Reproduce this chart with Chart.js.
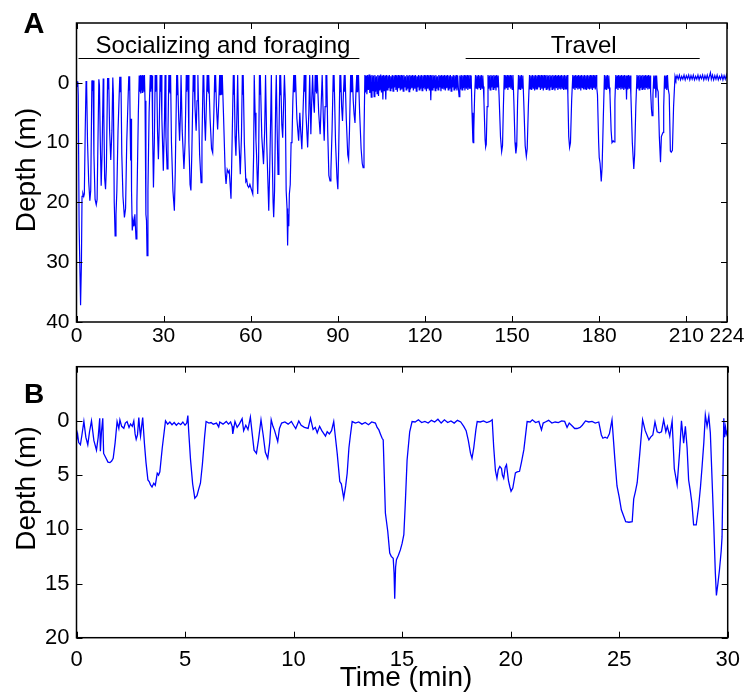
<!DOCTYPE html>
<html>
<head>
<meta charset="utf-8">
<title>Dive profile</title>
<script src="https://cdn.jsdelivr.net/npm/chart.js@4.4.1/dist/chart.umd.min.js"></script>
<style>
  body { margin: 0; background: #fff; }
  .panel { position: absolute; left: 0; width: 753px; }
  #panelA { top: 0; height: 345px; }
  #panelB { top: 345px; height: 349px; }
</style>
</head>
<body>
<div class="panel" id="panelA"><canvas id="chartA"></canvas></div>
<div class="panel" id="panelB"><canvas id="chartB"></canvas></div>
<script>
// ---- data: [time (min), depth (m)] ----
const profileA = [
  [0,0.3],[0.15,-0.3],[0.3,0.6],[0.45,-0.2],[0.6,2],
  [0.9,24],[1.4,37.2],[1.7,30],[1.9,19],[2.2,18.5],[2.5,19],[2.7,18.6],[3.0,8],[3.3,-0.3],
  [3.5,0.6],[3.8,10],[4.2,16.5],[4.6,19.7],[4.9,18],[5.3,-0.4],
  [5.5,0.5],[5.7,-0.4],[6.0,12],[6.4,19.5],[6.8,20.4],[7.1,19.5],[7.7,-0.6],
  [7.9,0.4],[8.2,10],[8.5,17.2],[8.8,12],[9.2,-0.7],[9.4,5],[9.7,16],[10.0,17.8],[10.3,14],[10.7,-0.8],
  [10.9,1],[11.1,-0.8],[11.4,8],[11.8,12.9],[12.2,8],[12.5,-0.9],
  [12.7,2],[13.0,20],[13.3,25.6],[13.6,22],[13.9,18],[14.3,8],[14.9,-1.0],
  [15.1,1.5],[15.3,-1.0],[15.6,12],[16.0,19],[16.5,22.5],[16.9,21],[17.3,10],[18.0,-1.1],
  [18.15,1.2],[18.3,-1.1],[18.5,8],[18.65,13],[18.8,6],[18.95,18],[19.2,24.7],[19.5,23],[19.8,24],[20.1,22],[20.5,26.1],[20.8,20],[21.3,5],[21.6,-1.2],
  [21.75,1.5],[21.9,-1.2],[22.05,1.8],[22.2,-1.3],[22.35,1.2],[22.5,-1.2],[22.65,1.6],[22.8,-1.3],[22.95,1.0],[23.1,-1.2],[23.25,1.4],[23.4,-1.3],
  [23.6,3],[23.9,22],[24.1,23],[24.3,28.9],[24.6,18],[25.0,5],[25.4,-1.3],
  [25.55,1.5],[25.7,-1.3],[25.85,1.0],[26.0,-1.2],[26.2,8],[26.5,17.5],[26.8,10],[27.1,-1.3],
  [27.25,1.5],[27.4,-1.3],[27.55,1.2],[27.7,-1.3],[27.9,8],[28.2,12.8],[28.5,7],[28.8,-1.3],
  [28.95,1.5],[29.1,-1.3],[29.4,6],[29.9,14.7],[30.3,6],[30.5,-1.3],[30.8,9],[31.2,14.4],[31.5,8],[31.8,-1.3],
  [31.95,1.5],[32.1,-1.3],[32.25,1.7],[32.4,-1.3],[32.7,10],[33.2,18],[33.7,21.4],[34.0,15],[34.5,-1.3],
  [34.65,2],[34.8,-1.3],[35.2,6],[35.5,9.7],[35.8,5],[36.0,-1.3],[36.4,8],[37.0,14.4],[37.4,10],[37.8,-1.3],
  [37.95,1.5],[38.1,-1.3],[38.25,1.2],[38.4,-1.3],[38.7,10],[39.1,17],[39.4,18],[39.7,12],[40.2,-1.3],
  [40.35,1.5],[40.5,-1.3],[40.8,4],[41.2,8],[41.5,3],[41.8,-1.3],[42.4,12],[42.9,16.7],[43.2,10],[43.6,-1.3],
  [43.75,1.5],[43.9,-1.3],[44.1,6],[44.4,9.7],[44.7,4],[45.0,-1.3],[45.15,1.5],[45.3,-1.3],[45.45,1.8],[45.6,-1.3],
  [46.0,6],[46.5,11],[46.9,11.7],[47.3,5],[47.6,-1.3],
  [47.75,1.5],[47.9,-1.3],[48.2,4],[48.6,7.8],[49.0,3],[49.3,-1.3],[49.45,2],[49.6,-1.3],[49.75,1.4],[49.9,-1.3],[50.05,2],[50.2,-1.3],
  [50.6,5],[51.2,15],[51.5,16.9],[51.9,14.5],[52.3,15],[52.6,14.7],[52.9,17],[53.2,19.4],[53.5,12],[53.8,4],[54.0,-1.3],
  [54.15,2],[54.3,-1.3],[54.6,9],[54.9,12.2],[55.2,6],[55.5,-1.3],[55.8,8],[56.4,15.3],[56.8,9],[57.1,-1.3],
  [57.25,2],[57.4,-1.3],[57.8,10],[58.3,16.5],[58.6,16.2],[58.9,17.2],[59.3,17.5],[59.7,17.0],[60.2,17.8],[60.7,18.6],[61.0,12],[61.2,-1.3],
  [61.5,5],[61.8,9.7],[62.0,12],[62.4,18.6],[62.7,13],[63.0,-1.3],
  [63.15,2],[63.3,-1.3],[63.8,9],[64.4,13.6],[64.8,8],[65.1,-1.3],[65.5,10],[66.0,18],[66.2,21.4],[66.5,15],[66.9,5],[67.1,-1.3],
  [67.4,12],[67.7,20],[67.9,22.5],[68.2,18],[68.6,3],[68.8,-1.3],
  [69.1,8],[69.4,15.3],[69.7,10],[70.0,-1.3],[70.15,2],[70.3,-1.3],[70.7,7],[71.0,9.2],[71.3,4],[71.6,-1.3],
  [71.9,3],[72.2,18],[72.5,21],[72.7,27.2],[72.9,22],[73.1,24],[73.3,18.6],[73.6,17],[73.9,10],[74.2,9.7],[74.5,3],[74.8,-1.3],
  [74.95,1.5],[75.1,-1.3],[75.25,1.2],[75.4,-1.3],[75.9,6],[76.5,9.7],[76.9,5],[77.2,8],[77.6,11.1],[78.0,5],[78.4,-1.3],
  [78.55,1.5],[78.7,-1.3],[79.0,5],[79.6,10.8],[80.0,5],[80.3,-1.3],[80.7,8.6],[81.0,3],[81.3,-1.3],[81.6,3],[81.9,5],[82.2,-1.3],
  [82.35,1.5],[82.5,-1.3],[82.65,1.8],[82.9,-1.3],[83.4,5],[83.9,8.6],[84.3,3],[84.6,-1.3],[85.0,6],[85.3,9.7],[85.6,4],[85.9,-1.3],
  [86.05,1.5],[86.2,-1.3],[86.5,8],[86.9,15.5],[87.3,16.4],[87.6,14.8],[88.0,8],[88.4,-1.3],
  [88.55,1.5],[88.7,-1.3],[89.2,10],[89.7,16],[90.0,17.8],[90.3,11],[90.7,-1.3],
  [90.85,1.5],[91.0,-1.3],[91.3,4],[91.6,6.4],[91.9,2],[92.2,-1.3],[92.35,1.5],[92.5,-1.3],[92.9,6],[93.4,12],[93.7,12.8],[94.0,8],[94.4,-1.3],
  [94.55,1.5],[94.7,-1.3],[94.85,1.2],[95.0,-1.3],[95.3,3],[95.6,5.3],[95.9,6.7],[96.2,2],[96.5,-1.3],[96.65,1.5],[96.8,-1.3],[96.95,1.2],[97.1,-1.3],
  [97.5,5],[98.0,11],[98.4,13.5],[98.7,14.2],[99.0,9],[99.3,-1.3],
  // resting at the surface
  [99.5,1.6],[99.75,-1.2],[100,1.9],[100.25,-1.3],[100.5,1.2],[100.75,-1.4],[101,1.7],[101.25,-1.2],
  [101.5,2.4],[101.75,-1.3],[102,1.4],[102.25,-1.2],[102.5,2.3],[102.75,-1.3],[103,1.5],[103.25,-1.1],
  [103.5,1.8],[103.75,-1.3],[104,2.2],[104.25,-1.2],[104.5,1.3],[104.75,-1.4],[105,1.6],[105.25,-1.2],
  [105.5,2.8],[105.75,-1.3],[106,1.4],[106.25,-1.2],[106.5,2.8],[106.75,-1.3],[107,1.2],[107.25,-1.2],
  [107.5,0.9],[107.75,-1.3],[108,1.3],[108.25,-1.1],[108.5,1.0],[108.75,-1.3],[109,1.4],[109.25,-1.2],
  [109.5,0.8],[109.75,-1.3],[110,1.2],[110.25,-1.2],[110.5,1.5],[110.75,-1.3],[111,0.9],[111.25,-1.2],
  [111.5,1.3],[111.75,-1.3],[112,1.1],[112.25,-1.2],[112.5,1.4],[112.75,-1.3],[113,0.8],[113.25,-1.1],
  [113.5,1.2],[113.75,-1.3],[114,1.0],[114.25,-1.2],[114.5,1.5],[114.75,-1.3],[115,1.1],[115.25,-1.2],
  [115.5,0.9],[115.75,-1.3],[116,1.3],[116.25,-1.2],[116.5,1.0],[116.75,-1.3],[117,1.4],[117.25,-1.1],
  [117.5,0.8],[117.75,-1.3],[118,1.2],[118.25,-1.2],[118.5,1.0],[118.75,-1.3],[119,1.3],[119.25,-1.2],
  [119.5,0.9],[119.75,-1.3],[120,1.1],[120.25,-1.2],[120.5,1.4],[120.75,-1.3],[121,1.0],[121.25,-1.2],
  [121.5,1.3],[121.75,-1.3],[122,2.9],[122.25,-1.2],[122.5,1.2],[122.75,-1.3],[123,0.9],[123.25,-1.2],
  [123.5,1.3],[123.75,-1.3],[124,1.0],[124.25,-1.1],[124.5,1.2],[124.75,-1.3],[125,0.8],[125.25,-1.2],
  [125.5,1.4],[125.75,-1.3],[126,1.0],[126.25,-1.2],[126.5,1.1],[126.75,-1.3],[127,1.3],[127.25,-1.2],
  [127.5,0.9],[127.75,-1.3],[128,1.2],[128.25,-1.2],[128.5,1.0],[128.75,-1.3],[129,1.4],[129.25,-1.1],
  [129.5,0.8],[129.75,-1.3],[130,1.2],[130.25,-1.2],[130.5,1.0],[130.75,-1.3],[131,1.3],[131.25,-1.2],
  [131.5,0.9],[131.75,2.3],[132,-1.2],[132.25,1.1],[132.5,-1.3],[132.75,1.2],[133,-1.2],[133.25,0.9],
  [133.5,-1.3],[133.75,1.3],[134,-1.2],[134.25,1.0],[134.5,-1.3],[134.75,1.2],[135,-1.2],[135.25,0.9],
  [135.5,-1.3],[135.75,1.0],
  // travel
  [135.9,-1.2],[136.2,5],[136.5,9.8],[136.6,10.0],[136.8,8],[137.1,2],[137.4,-1.3],
  [137.65,0.9],[137.9,-1.2],[138.15,1.1],[138.4,-1.3],[138.65,0.8],[138.9,-1.2],[139.15,1.2],[139.4,-1.3],[139.65,0.9],[139.9,-1.2],[140.1,0.6],
  [140.3,3],[140.7,9.5],[140.9,10.7],[141.1,10.3],[141.4,4],[141.7,-1.3],
  [141.95,1.0],[142.2,-1.2],[142.45,1.2],[142.7,-1.3],[142.95,0.8],[143.2,-1.2],[143.45,1.1],[143.7,-1.3],[143.95,0.9],[144.2,-1.2],[144.45,1.3],[144.7,-1.3],[144.95,0.8],[145.2,-1.2],
  [145.5,2],[146.0,9],[146.4,11.5],[146.7,10.5],[147.0,4],[147.3,-1.3],
  [147.55,1.1],[147.8,-1.2],[148.05,0.9],[148.3,-1.3],[148.55,1.2],[148.8,-1.2],[149.05,0.8],[149.3,-1.3],[149.55,1.0],[149.8,-1.2],[150.05,1.1],[150.3,-1.3],
  [150.6,3],[151.0,10],[151.3,11.8],[151.6,10.5],[151.9,3],[152.2,-1.3],
  [152.45,1.0],[152.7,-1.2],[152.95,1.2],[153.2,-1.3],[153.45,0.9],[153.7,-1.2],
  [154.0,3],[154.5,10.5],[154.9,12.3],[155.2,11],[155.6,4],[156.0,-1.3],
  [156.25,1.0],[156.5,-1.2],[156.75,1.2],[157,-1.3],[157.25,0.9],[157.5,-1.2],[157.75,1.3],[158,-1.3],
  [158.25,1.0],[158.5,-1.2],[158.75,1.1],[159,-1.3],[159.25,0.8],[159.5,-1.2],[159.75,1.2],[160,-1.3],
  [160.25,1.0],[160.5,-1.2],[160.75,1.3],[161,-1.3],[161.25,0.9],[161.5,-1.2],[161.75,1.1],[162,-1.3],
  [162.25,1.0],[162.5,-1.2],[162.75,1.2],[163,-1.3],[163.25,0.8],[163.5,-1.2],[163.75,1.1],[164,-1.3],
  [164.25,1.0],[164.5,-1.2],[164.75,1.3],[165,-1.3],[165.25,0.9],[165.5,-1.2],[165.75,1.2],[166,-1.3],
  [166.25,1.0],[166.5,-1.2],[166.75,1.1],[167,-1.3],[167.25,0.9],[167.5,-1.2],[167.75,1.2],[168,-1.3],
  [168.25,1.0],[168.5,-1.2],[168.75,1.1],[169,-1.3],
  [169.2,2],[169.5,9],[169.8,10.8],[170.1,10],[170.5,3],[170.9,-1.3],
  [171.15,1.0],[171.4,-1.2],[171.65,1.2],[171.9,-1.3],[172.15,0.9],[172.4,-1.2],[172.65,1.1],[172.9,-1.3],
  [173.15,1.0],[173.4,-1.2],[173.65,1.3],[173.9,-1.3],[174.15,0.8],[174.4,-1.2],[174.65,1.1],[174.9,-1.3],
  [175.15,1.0],[175.4,-1.2],[175.65,1.2],[175.9,-1.3],[176.15,0.9],[176.4,-1.2],[176.65,1.1],[176.9,-1.3],
  [177.15,1.0],[177.4,-1.2],[177.65,1.2],[177.9,-1.3],[178.15,0.9],[178.4,-1.2],[178.65,1.1],[178.9,-1.3],[179.15,0.8],
  [179.4,2],[179.8,10],[180.0,12.5],[180.3,13.5],[180.7,16.5],[181.0,14],[181.4,6],[181.8,-1.3],
  [182.05,1.0],[182.3,-1.2],[182.55,1.2],[182.8,-1.3],[183.05,0.9],[183.3,-1.2],[183.5,0.8],
  [183.7,2],[184.1,8],[184.4,10],[184.8,9.7],[185.1,9.9],[185.4,3],[185.7,-1.3],
  [185.95,1.0],[186.2,-1.2],[186.45,1.2],[186.7,-1.3],[186.95,0.9],[187.2,-1.2],[187.45,1.1],[187.7,-1.3],
  [187.95,1.0],[188.2,-1.2],[188.45,1.2],[188.7,-1.3],[188.95,0.9],[189.2,-1.2],[189.4,2.8],[189.6,-1.2],
  [189.85,1.1],[190.1,-1.3],[190.35,1.0],[190.6,-1.2],
  [190.9,2],[191.4,10],[191.9,14.4],[192.2,12],[192.6,4],[193.0,-1.3],
  [193.25,1.0],[193.5,-1.2],[193.75,1.2],[194,-1.3],[194.25,0.9],[194.5,-1.2],[194.75,1.1],[195,-1.3],
  [195.25,1.0],[195.5,-1.2],[195.75,1.2],[196,-1.3],[196.25,0.9],[196.5,-1.2],[196.75,1.1],[197,-1.3],
  [197.25,1.0],[197.5,-1.2],
  [197.7,1.5],[198.0,4.5],[198.2,5.5],[198.5,2],[198.8,-1.2],
  [199.05,1.0],[199.3,-1.2],[199.5,2.5],[199.75,-1.2],[200.0,1.0],
  [200.3,1.5],[200.7,9],[201.1,13.3],[201.4,9],[201.7,8.6],[202.0,8.3],[202.2,4],[202.5,-1.2],
  [202.75,1.0],[203,-1.2],[203.25,1.2],[203.5,-1.3],[203.75,1.0],
  [204.1,2],[204.5,11.4],[204.8,11.6],[205.2,11.3],[205.6,4],[206.1,-1.1],
  // back at the surface
  [206.4,-0.5],[206.8,-1.2],[207.2,-0.6],[207.6,-1.3],[208,-0.5],[208.4,-1.1],[208.8,-0.6],[209.2,-1.3],
  [209.6,-0.5],[210,-1.2],[210.4,-0.7],[210.8,-1.3],[211.2,-0.5],[211.6,-1.2],[212,-0.6],[212.4,-1.3],
  [212.8,-0.5],[213.2,-1.1],[213.6,-0.6],[214,-1.3],[214.4,-0.5],[214.8,-1.2],[215.2,-0.7],[215.6,-1.3],
  [216,-0.5],[216.4,-1.2],[216.8,-0.6],[217.2,-1.3],[217.6,-0.5],[218,-1.2],[218.3,-1.7],[218.6,-0.6],
  [219,-1.3],[219.4,-0.5],[219.8,-1.2],[220.2,-0.6],[220.6,-1.3],[221,-0.5],[221.4,-1.1],[221.8,-0.6],
  [222.2,-1.3],[222.6,-0.5],[223,-1.2],[223.4,-0.6],[223.8,-1.3],[224,-0.7]
];

const profileB = [
  [0,1.8],[0.05,1.2],[0.1,2.0],[0.18,2.2],[0.25,1.3],[0.34,0.05],[0.43,1.5],[0.52,2.2],[0.6,1.0],[0.69,0],
  [0.8,1.8],[0.92,2.7],[1.0,1.5],[1.07,-0.25],[1.1,2.8],[1.15,1.0],[1.21,-0.25],[1.25,3.0],[1.35,3.4],[1.45,3.8],
  [1.54,3.85],[1.62,3.7],[1.69,3.45],[1.78,2.0],[1.87,0.06],[1.95,0.7],[2.0,-0.1],[2.08,0.5],[2.18,0.68],[2.25,0.2],
  [2.33,0.06],[2.42,0.6],[2.49,0.28],[2.57,0.5],[2.64,0],[2.7,1.2],[2.75,1.7],[2.81,1.3],[2.87,-0.3],[2.92,0.9],
  [2.95,1.4],[3.0,0.5],[3.05,-0.3],[3.13,2.1],[3.2,3.8],[3.29,5.45],[3.35,5.6],[3.41,5.9],[3.48,6.1],[3.56,5.75],
  [3.63,5.95],[3.72,4.83],[3.78,5.0],[3.84,4.7],[3.95,2.5],[4.1,0],[4.2,0.3],[4.3,0.1],[4.4,0.35],[4.5,0.15],
  [4.6,0.4],[4.7,0.2],[4.8,0.35],[4.9,0.1],[5.0,0.4],[5.08,0.2],[5.13,-0.5],[5.17,1.0],[5.25,3.5],[5.35,5.8],
  [5.45,7.13],[5.55,6.9],[5.63,6.3],[5.71,5.75],[5.8,4.0],[5.9,1.5],[5.97,0.06],[6.1,0.2],[6.2,0.15],[6.3,0.3],
  [6.45,0.2],[6.55,0.55],[6.6,0.1],[6.75,0.3],[6.9,0.05],[7.0,0.3],[7.1,0.1],[7.17,0.5],[7.2,1.2],[7.3,0.05],
  [7.4,0.6],[7.5,0.3],[7.63,-0.2],[7.7,0.9],[7.8,0.4],[7.9,0.8],[8.01,-0.35],[8.09,1.1],[8.18,2.7],[8.29,3.0],
  [8.38,1.8],[8.5,-0.1],[8.6,1.3],[8.7,2.9],[8.81,3.45],[8.9,2.0],[8.97,-0.1],[9.05,0.5],[9.12,0.85],[9.27,1.9],
  [9.35,0.7],[9.45,0.2],[9.6,0.1],[9.75,0.3],[9.9,0.05],[10.0,0.4],[10.1,0.7],[10.24,0],[10.35,0.4],[10.5,0.6],
  [10.67,0.7],[10.78,-0.25],[10.9,0.8],[11.0,0.6],[11.09,1.1],[11.2,0.5],[11.3,0.9],[11.47,1.4],[11.55,1.0],[11.65,1.2],
  [11.75,0.9],[11.85,0.06],[11.9,1.0],[12.01,3.0],[12.13,5.6],[12.2,5.8],[12.31,7.13],[12.4,6.0],[12.47,4.83],[12.55,2.5],
  [12.62,1.3],[12.7,0.06],[12.85,0.2],[13.0,0.1],[13.15,0.3],[13.3,0.15],[13.45,0.35],[13.6,0.1],[13.77,0.2],[13.85,0.6],
  [13.93,0.83],[14.0,1.2],[14.08,1.6],[14.13,1.75],[14.23,8.5],[14.34,10.2],[14.43,12.2],[14.5,12.5],[14.59,12.67],[14.63,14],
  [14.66,16.4],[14.7,13.5],[14.74,12.8],[14.83,12.4],[14.92,11.9],[15.0,11.3],[15.08,10.5],[15.15,7.5],[15.23,3.6],[15.35,1.0],
  [15.46,0.06],[15.6,0.1],[15.75,-0.1],[15.9,0.15],[16.05,0.05],[16.2,0.2],[16.35,-0.05],[16.5,0.1],[16.65,-0.15],[16.8,0.2],
  [16.95,-0.1],[17.1,0.15],[17.25,0],[17.4,0.2],[17.55,-0.05],[17.7,0.1],[17.84,0.5],[17.95,0.9],[18.05,1.8],[18.15,2.98],
  [18.22,3.45],[18.3,2.5],[18.4,0.8],[18.46,0.06],[18.6,0.1],[18.75,0.0],[18.9,0.15],[19.05,0.05],[19.15,-0.1],[19.22,2.4],
  [19.3,4.6],[19.37,5.3],[19.43,4.5],[19.5,4.2],[19.58,4.4],[19.62,5.0],[19.68,5.3],[19.75,4.3],[19.81,4.05],[19.9,5.5],
  [19.96,6.05],[20.02,6.5],[20.1,6.2],[20.22,4.8],[20.3,4.7],[20.41,4.65],[20.5,3.8],[20.61,2.65],[20.76,0.06],[20.9,0.1],
  [21.0,-0.1],[21.15,0.15],[21.3,0.05],[21.42,0.83],[21.5,0.2],[21.6,0.1],[21.75,-0.05],[21.9,0.2],[22.05,0.1],[22.2,0.15],
  [22.35,0.0],[22.49,0.05],[22.6,0.6],[22.7,0.2],[22.85,0.5],[22.95,0.7],[23.06,0.7],[23.2,0.6],[23.3,0.4],[23.45,0.0],
  [23.6,0.1],[23.75,0.05],[23.9,0.2],[24.06,0.1],[24.18,1.3],[24.25,1.6],[24.35,1.5],[24.45,1.6],[24.55,1.2],[24.67,-0.1],
  [24.8,3.5],[24.9,6.0],[25.0,7.0],[25.1,8.2],[25.21,8.8],[25.3,9.3],[25.45,9.35],[25.6,9.3],[25.67,7.2],[25.75,6.5],
  [25.83,5.7],[25.95,3.0],[26.08,-0.1],[26.2,0.9],[26.3,1.4],[26.37,1.75],[26.45,1.5],[26.55,1.3],[26.65,0.1],[26.75,1.0],
  [26.85,1.1],[26.95,1.0],[27.05,-0.1],[27.15,1.0],[27.22,0.5],[27.33,1.4],[27.44,0.0],[27.54,4.4],[27.67,5.9],[27.78,3.0],
  [27.87,0.0],[27.97,2.06],[28.05,0.5],[28.13,2.5],[28.2,5.45],[28.28,6.5],[28.35,7.6],[28.43,9.6],[28.55,9.6],[28.66,7.9],
  [28.75,6.0],[28.82,4.2],[28.9,2.0],[28.97,-0.55],[29.05,0.5],[29.13,-0.45],[29.2,1.1],[29.36,9.75],[29.43,14.0],[29.48,16.1],
  [29.55,15.0],[29.62,13.75],[29.7,12.0],[29.74,10.7],[29.82,-0.25],[29.86,1.5],[29.9,0.6],[29.94,1.2],[30,0.8]
];

const ticksAx = [0, 30, 60, 90, 120, 150, 180, 210, 224];
const ticksAy = [0, 10, 20, 30, 40];
const ticksBx = [0, 5, 10, 15, 20, 25, 30];
const ticksBy = [0, 5, 10, 15, 20];

const phaseNames = ['Socializing and foraging', 'Travel'];
const phaseStart = [0.7, 134];
const phaseEnd = [97.4, 214.6];

const FONT = "'Liberation Sans', Arial, sans-serif";
Chart.defaults.font.family = FONT;
Chart.defaults.color = '#000';

// box round the plot with inward ticks on all four sides
const frameTicks = {
  id: 'frameTicks',
  afterDraw(chart) {
    const { ctx, chartArea: a, scales: { x, y } } = chart;
    const len = 6;
    ctx.save();
    ctx.strokeStyle = '#000';
    ctx.lineWidth = 1;
    ctx.beginPath();
    x.ticks.forEach(t => {
      const px = Math.round(x.getPixelForValue(t.value)) + 0.5;
      ctx.moveTo(px, a.bottom); ctx.lineTo(px, a.bottom - len);
      ctx.moveTo(px, a.top); ctx.lineTo(px, a.top + len);
    });
    y.ticks.forEach(t => {
      const py = Math.round(y.getPixelForValue(t.value)) + 0.5;
      ctx.moveTo(a.left, py); ctx.lineTo(a.left + len, py);
      ctx.moveTo(a.right, py); ctx.lineTo(a.right - len, py);
    });
    ctx.stroke();
    ctx.lineWidth = 1.5;
    ctx.strokeRect(a.left, a.top, a.right - a.left, a.bottom - a.top);
    ctx.restore();
  }
};

// free text: panel letters, axis titles, phase bars
const textLayer = {
  id: 'textLayer',
  afterDraw(chart, args, opts) {
    const ctx = chart.ctx;
    ctx.save();
    ctx.fillStyle = '#000';
    ctx.strokeStyle = '#000';
    (opts.items || []).forEach(it => {
      ctx.save();
      ctx.font = it.font;
      ctx.textAlign = 'center';
      ctx.textBaseline = 'alphabetic';
      ctx.translate(it.x, it.y);
      if (it.rotate) ctx.rotate(it.rotate);
      ctx.fillText(it.text, 0, 0);
      ctx.restore();
    });
    if (opts.phases) {
      const { x, y } = chart.scales;
      const barY = Math.round(y.getPixelForValue(-4.1)) + 0.5;
      ctx.lineWidth = 1;
      ctx.font = '24px ' + FONT;
      ctx.textAlign = 'center';
      phaseNames.forEach((name, i) => {
        const x0 = x.getPixelForValue(phaseStart[i]);
        const x1 = x.getPixelForValue(phaseEnd[i]);
        ctx.beginPath();
        ctx.moveTo(x0, barY); ctx.lineTo(x1, barY);
        ctx.stroke();
        // the first caption sits a little right of its bar's middle
        ctx.fillText(name, (x0 + x1) / 2 + (i === 0 ? 4 : 1), barY - 6);
      });
    }
    ctx.restore();
  }
};

function makeChart(id, profile, cfg) {
  return new Chart(document.getElementById(id), {
    type: 'scatter',
    data: {
      datasets: [{
        data: profile.map(([t, d]) => ({ x: t, y: d })),
        showLine: true,
        borderColor: '#0000ff',
        borderWidth: cfg.lineWidth,
        pointRadius: 0,
        tension: 0
      }]
    },
    options: {
      responsive: true,
      maintainAspectRatio: false,
      animation: false,
      events: [],
      layout: { padding: { top: cfg.padTop, right: cfg.padRight, left: 0, bottom: 0 } },
      plugins: {
        legend: { display: false },
        tooltip: { enabled: false },
        textLayer: { items: cfg.texts, phases: cfg.phases }
      },
      scales: {
        x: {
          type: 'linear', min: cfg.xMin, max: cfg.xMax,
          grid: { display: false, drawTicks: false },
          border: { display: false },
          afterBuildTicks: s => { s.ticks = cfg.xTicks.map(v => ({ value: v })); },
          afterFit: s => { s.height = cfg.xHeight; },
          ticks: { font: { size: cfg.tickSize }, color: '#000', padding: cfg.xPad, maxRotation: 0, autoSkip: false }
        },
        y: {
          type: 'linear', min: cfg.yMin, max: cfg.yMax, reverse: true,
          grid: { display: false, drawTicks: false },
          border: { display: false },
          afterBuildTicks: s => { s.ticks = cfg.yTicks.map(v => ({ value: v })); },
          afterFit: s => { s.width = 76.5; },
          ticks: { font: { size: cfg.tickSize }, color: '#000', padding: 7 }
        }
      }
    },
    plugins: [frameTicks, textLayer]
  });
}

makeChart('chartA', profileA, {
  xMin: 0, xMax: 224, yMin: -10, yMax: 40,
  xTicks: ticksAx, yTicks: ticksAy,
  padTop: 23, padRight: 26, xHeight: 23, xPad: 2, tickSize: 21, lineWidth: 1.2,
  phases: true,
  texts: [
    { text: 'A', x: 34, y: 33, font: 'bold 29px ' + FONT },
    { text: 'Depth (m)', x: 35, y: 170, rotate: -Math.PI / 2, font: '28px ' + FONT }
  ]
});

makeChart('chartB', profileB, {
  xMin: 0, xMax: 30, yMin: -5, yMax: 20,
  xTicks: ticksBx, yTicks: ticksBy,
  padTop: 21.7, padRight: 25.3, xHeight: 56.3, xPad: 9, tickSize: 22, lineWidth: 1.3,
  phases: false,
  texts: [
    { text: 'B', x: 34, y: 58, font: 'bold 28px ' + FONT },
    { text: 'Depth (m)', x: 35, y: 143.5, rotate: -Math.PI / 2, font: '28px ' + FONT },
    { text: 'Time (min)', x: 406, y: 341, font: '28px ' + FONT }
  ]
});
</script>
</body>
</html>
